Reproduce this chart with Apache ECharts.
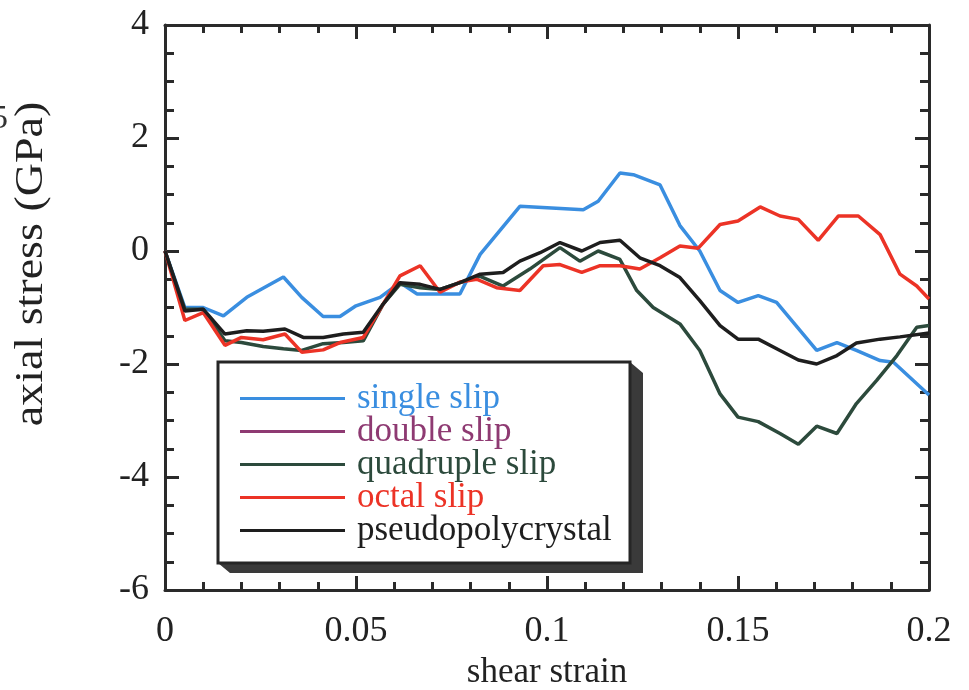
<!DOCTYPE html>
<html>
<head>
<meta charset="utf-8">
<script src="https://cdn.jsdelivr.net/npm/echarts@6/dist/echarts.min.js"></script>
<style>
html,body{margin:0;padding:0;background:#fff;}
#chart{width:969px;height:690px;}
</style>
</head>
<body>
<div id="chart"></div>
<script>
// Data: [shear strain, axial stress (GPa)]
const singleSlip = [
  [0,0],[0.0052,-1.0],[0.010,-1.0],[0.0153,-1.15],[0.0214,-0.82],[0.031,-0.46],[0.0358,-0.82],
  [0.0414,-1.16],[0.0458,-1.16],[0.050,-0.97],[0.0563,-0.82],[0.0615,-0.56],[0.066,-0.76],
  [0.0772,-0.76],[0.0825,-0.06],[0.0929,0.79],[0.1095,0.73],[0.1134,0.88],[0.1191,1.38],
  [0.1226,1.35],[0.1296,1.17],[0.1348,0.45],[0.14,0.0],[0.1453,-0.70],[0.15,-0.91],
  [0.1553,-0.79],[0.1601,-0.91],[0.1706,-1.76],[0.1759,-1.62],[0.181,-1.76],[0.1872,-1.94],
  [0.1907,-1.97],[0.2,-2.55]
];
const doubleSlip = [];
const quadrupleSlip = [
  [0,0],[0.0052,-1.03],[0.010,-1.03],[0.0157,-1.59],[0.020,-1.62],[0.0257,-1.69],[0.031,-1.73],
  [0.0358,-1.76],[0.0414,-1.64],[0.0467,-1.62],[0.0519,-1.59],[0.0571,-0.94],[0.0615,-0.59],
  [0.0668,-0.65],[0.072,-0.68],[0.0772,-0.56],[0.0825,-0.45],[0.0885,-0.62],[0.0955,-0.32],
  [0.1034,0.06],[0.1086,-0.18],[0.1134,0.0],[0.1191,-0.15],[0.1235,-0.70],[0.1278,-1.0],
  [0.1348,-1.29],[0.14,-1.76],[0.1453,-2.53],[0.15,-2.94],[0.1553,-3.02],[0.161,-3.23],
  [0.1658,-3.42],[0.1706,-3.10],[0.1759,-3.23],[0.181,-2.70],[0.1863,-2.29],[0.1916,-1.85],
  [0.1968,-1.35],[0.2,-1.32]
];
const octalSlip = [
  [0,0],[0.0052,-1.23],[0.010,-1.09],[0.0157,-1.67],[0.020,-1.53],[0.0257,-1.57],[0.0314,-1.47],
  [0.0358,-1.79],[0.0414,-1.75],[0.0458,-1.62],[0.0519,-1.53],[0.0571,-0.94],[0.0615,-0.44],
  [0.0668,-0.26],[0.072,-0.73],[0.0772,-0.55],[0.0816,-0.5],[0.0868,-0.65],[0.0929,-0.70],
  [0.099,-0.26],[0.1034,-0.24],[0.1091,-0.38],[0.1139,-0.26],[0.1191,-0.26],[0.1243,-0.32],
  [0.1296,-0.12],[0.1348,0.09],[0.1396,0.05],[0.1453,0.47],[0.15,0.53],[0.1558,0.78],
  [0.161,0.62],[0.1658,0.56],[0.171,0.19],[0.1763,0.62],[0.1815,0.62],[0.1872,0.29],
  [0.1924,-0.41],[0.1968,-0.62],[0.2,-0.85]
];
const pseudopolycrystal = [
  [0,0],[0.0052,-1.06],[0.010,-1.03],[0.0157,-1.47],[0.0214,-1.41],[0.0257,-1.42],[0.0314,-1.38],
  [0.0362,-1.53],[0.0414,-1.53],[0.0467,-1.47],[0.0519,-1.44],[0.0571,-0.94],[0.0615,-0.56],
  [0.0668,-0.59],[0.072,-0.68],[0.0772,-0.56],[0.0825,-0.41],[0.0885,-0.38],[0.0929,-0.18],
  [0.0982,-0.03],[0.1034,0.15],[0.1091,0.0],[0.1139,0.15],[0.1191,0.19],[0.1243,-0.12],
  [0.1296,-0.26],[0.1348,-0.47],[0.14,-0.88],[0.1453,-1.32],[0.15,-1.56],[0.1553,-1.56],
  [0.161,-1.76],[0.1658,-1.93],[0.1706,-2.0],[0.1759,-1.85],[0.181,-1.63],[0.1872,-1.56],
  [0.1924,-1.52],[0.2,-1.45]
];
const seriesNames = ['single slip','double slip','quadruple slip','octal slip','pseudopolycrystal'];
const seriesColors = ['#3a8ee0','#8e3a72','#2c4a3c','#ec3326','#1e1e1e'];
const seriesData = [singleSlip, doubleSlip, quadrupleSlip, octalSlip, pseudopolycrystal];
const xTicks = [0, 0.05, 0.1, 0.15, 0.2];
const yTicks = [-6, -4, -2, 0, 2, 4];
const xTitle = 'shear strain';
const yTitle = 'axial stress (GPa)';

const FONT = '"Liberation Serif", "DejaVu Serif", serif';
const axisColor = '#2a2a2a';

function xAxisCfg(pos, showLabels) {
  return {
    type: 'value', position: pos, min: 0, max: 0.2, interval: 0.05,
    axisLine: {show: true, onZero: false, lineStyle: {color: axisColor, width: 3}},
    axisTick: {show: true, inside: true, length: 14, lineStyle: {color: axisColor, width: 3}},
    minorTick: {show: true, splitNumber: 5, length: 8, lineStyle: {color: axisColor, width: 3}},
    splitLine: {show: false},
    axisLabel: {show: showLabels, fontFamily: FONT, fontSize: 36, color: '#222', margin: 24,
      formatter: v => String(parseFloat(v.toFixed(2)))},
    name: showLabels ? xTitle : '', nameLocation: 'middle', nameGap: 63,
    nameTextStyle: {fontFamily: FONT, fontSize: 35, color: '#222'}
  };
}
function yAxisCfg(pos, showLabels) {
  return {
    type: 'value', position: pos, min: -6, max: 4, interval: 2,
    axisLine: {show: true, onZero: false, lineStyle: {color: axisColor, width: 3}},
    axisTick: {show: true, inside: true, length: 14, lineStyle: {color: axisColor, width: 3}},
    minorTick: {show: true, splitNumber: 4, length: 9, lineStyle: {color: axisColor, width: 3}},
    splitLine: {show: false},
    axisLabel: {show: showLabels, fontFamily: FONT, fontSize: 36, color: '#222', margin: 16}
  };
}

const chart = echarts.init(document.getElementById('chart'), null, {renderer: 'canvas'});
const option = {
  backgroundColor: '#fff',
  animation: false,
  grid: {left: 165, top: 25, right: 40, bottom: 100, containLabel: false, outerBoundsMode: 'none'},
  xAxis: [xAxisCfg('bottom', true), xAxisCfg('top', false)],
  yAxis: [yAxisCfg('left', true), yAxisCfg('right', false)],
  legend: {
    orient: 'vertical', left: 240, top: 381, padding: 0,
    itemWidth: 105, itemHeight: 3, itemGap: -2, icon: 'rect',
    selectedMode: false, z: 10,
    textStyle: {fontFamily: FONT, fontSize: 35, lineHeight: 33, padding: [0, 0, 0, 7]},
    data: seriesNames.map((n, i) => ({name: n, textStyle: {color: seriesColors[i]}}))
  },
  graphic: [
    {type: 'polygon', z: 5, shape: {points: [[630,362],[643,373],[643,573],[230,573],[218,563],[630,563]]},
      style: {fill: '#3a3a3a'}},
    {type: 'rect', z: 6, shape: {x: 218, y: 362, width: 412, height: 201},
      style: {fill: '#fff', stroke: '#262626', lineWidth: 3}},
    {type: 'text', z: 4, left: -9, top: 102, style: {text: '5', font: '34px ' + FONT, fill: '#333'}},
    {type: 'text', z: 6, x: 32, y: 264, rotation: Math.PI / 2, scaleX: 1.18,
      style: {text: yTitle, font: '39px ' + FONT, fill: '#222', align: 'center', verticalAlign: 'middle'}}
  ],
  series: seriesNames.map((n, i) => ({
    name: n, type: 'line', data: seriesData[i], showSymbol: false, symbol: 'none',
    lineStyle: {color: seriesColors[i], width: 3.5}, itemStyle: {color: seriesColors[i]},
    z: 2 + i
  }))
};
chart.setOption(option);
</script>
</body>
</html>
